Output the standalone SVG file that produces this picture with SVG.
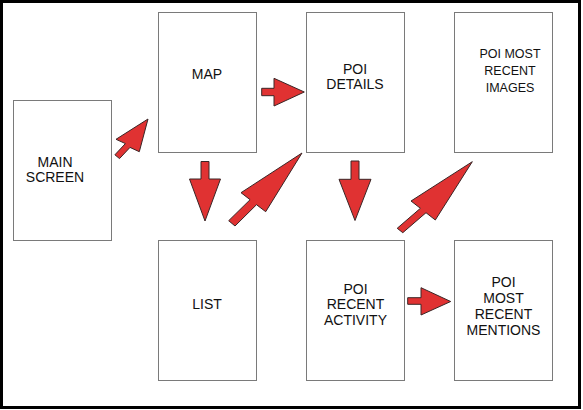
<svg xmlns="http://www.w3.org/2000/svg" width="583" height="410" viewBox="0 0 583 410">
<style>
.box{fill:#fff;stroke:#7a7a7a;stroke-width:1}
.t{font-family:"Liberation Sans",Arial,sans-serif;font-size:14px;fill:#111;text-anchor:middle}
.s{font-size:12.5px}
.arr{fill:#e03232;stroke:#3a2626;stroke-width:1;stroke-linejoin:miter}
</style>
<rect x="0" y="0" width="583" height="410" fill="#fff"/>
<rect x="1.5" y="1.5" width="578" height="406" fill="none" stroke="#000" stroke-width="3"/>
<g id="main-screen"><rect class="box" x="13.5" y="100.5" width="98" height="140"/><text class="t" x="55" y="167">MAIN</text><text class="t" x="55" y="182">SCREEN</text></g>
<g id="map"><rect class="box" x="158.5" y="12.5" width="98" height="140"/><text class="t" x="207" y="78.5">MAP</text></g>
<g id="poi-details"><rect class="box" x="306.5" y="12.5" width="98" height="140"/><text class="t" x="355" y="73.5">POI</text><text class="t" x="355" y="88.5">DETAILS</text></g>
<g id="poi-images"><rect class="box" x="454.5" y="12.5" width="98" height="140"/><text class="t s" x="510" y="58">POI MOST</text><text class="t s" x="510" y="75">RECENT</text><text class="t s" x="510" y="92">IMAGES</text></g>
<g id="list"><rect class="box" x="158.5" y="240.5" width="98" height="140"/><text class="t" x="207" y="308.5">LIST</text></g>
<g id="poi-activity"><rect class="box" x="306.5" y="240.5" width="98" height="140"/><text class="t" x="355.5" y="293.5">POI</text><text class="t" x="355.5" y="309">RECENT</text><text class="t" x="355.5" y="324.5">ACTIVITY</text></g>
<g id="poi-mentions"><rect class="box" x="454.5" y="240.5" width="98" height="140"/><text class="t" x="503.5" y="286.5">POI</text><text class="t" x="503.5" y="302.5">MOST</text><text class="t" x="503.5" y="318.5">RECENT</text><text class="t" x="503.5" y="334.5">MENTIONS</text></g>
<g id="connectors">
<polygon class="arr" points="114.9,154.8 125.4,143.6 116,139.3 148,119 139.3,151.7 130,147.4 119.5,158.6"/>
<polygon class="arr" points="201,161.5 209,161.5 209,179 220.5,179 205,221 189.5,179 201,179"/>
<polygon class="arr" points="228.7,220.7 250.1,199.7 241,192.7 302,153 265.7,211.7 256.5,204.7 235,226"/>
<polygon class="arr" points="261.7,88.3 274,88.3 274,78.3 304.3,92 274,106 274,95.7 261.7,95.7"/>
<polygon class="arr" points="351,161 359,161 359,179.3 371,179.3 355,220.5 339,179.3 351,179.3"/>
<polygon class="arr" points="397.2,228.3 420.4,208.3 411,201 472.3,161.7 435.3,220 426,212.7 402.8,232.7"/>
<polygon class="arr" points="407.7,297.7 421,297.7 421,287.7 450.7,301.5 421,315 421,304.3 407.7,304.3"/>
</g>
</svg>
